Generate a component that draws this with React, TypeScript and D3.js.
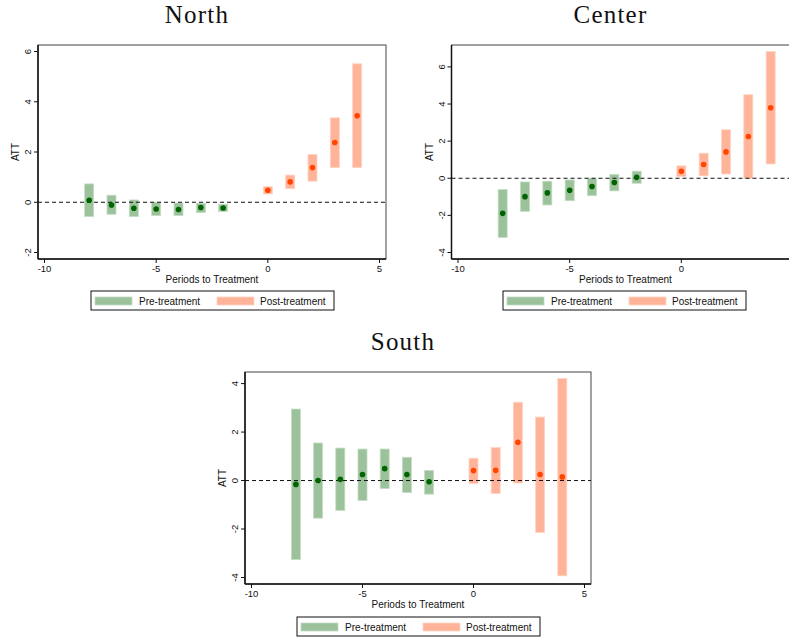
import React from "react";
import * as d3 from "d3";

const periods = [-8, -7, -6, -5, -4, -3, -2, 0, 1, 2, 3, 4];

const northEst = [0.08, -0.11, -0.24, -0.27, -0.29, -0.21, -0.23, 0.48, 0.81, 1.38, 2.38, 3.44];
const northLo = [-0.57, -0.48, -0.57, -0.53, -0.53, -0.41, -0.37, 0.33, 0.54, 0.84, 1.38, 1.38];
const northHi = [0.73, 0.28, 0.09, 0.0, -0.03, -0.04, -0.08, 0.62, 1.08, 1.9, 3.36, 5.51];

const centerEst = [-1.89, -0.99, -0.79, -0.65, -0.45, -0.23, 0.05, 0.38, 0.74, 1.42, 2.25, 3.8];
const centerLo = [-3.19, -1.78, -1.44, -1.21, -0.94, -0.68, -0.27, 0.09, 0.13, 0.23, 0.0, 0.77];
const centerHi = [-0.61, -0.2, -0.16, -0.09, 0.0, 0.2, 0.38, 0.67, 1.35, 2.61, 4.5, 6.83];

const southEst = [-0.16, 0.0, 0.05, 0.25, 0.49, 0.25, -0.05, 0.41, 0.42, 1.58, 0.25, 0.15];
const southLo = [-3.26, -1.55, -1.23, -0.82, -0.33, -0.49, -0.56, -0.12, -0.53, -0.1, -2.14, -3.93];
const southHi = [2.95, 1.55, 1.34, 1.3, 1.3, 0.96, 0.42, 0.92, 1.36, 3.23, 2.62, 4.21];

const xTicks = [-10, -5, 0, 5];
const centerXTicks = [-10, -5, 0];
const northYTicks = [-2, 0, 2, 4, 6];
const centerYTicks = [-4, -2, 0, 2, 4, 6];
const southYTicks = [-4, -2, 0, 2, 4];

const legendLabels = ["Pre-treatment", "Post-treatment"];

const PRE_FILL = "#9cc29b";
const PRE_EDGE = "#c4dcc3";
const POST_FILL = "#ffb398";
const POST_EDGE = "#ffd3c2";
const PRE_DOT = "#006400";
const POST_DOT = "#ff4500";

const SANS = "'Liberation Sans', Arial, sans-serif";
const SERIF = "'Liberation Serif', 'DejaVu Serif', serif";

type PanelProps = {
  title: string;
  left: number;
  top: number;
  width: number;
  height: number;
  yDomain: [number, number];
  yTicks: number[];
  xTickList: number[];
  est: number[];
  lo: number[];
  hi: number[];
  legendX: number;
  legendY: number;
};

function Panel(p: PanelProps) {
  const padX = 6.5;
  const padY = 6.5;
  const R = p.left + p.width;
  const B = p.top + p.height;
  const x = d3.scaleLinear().domain([-10, 5]).range([p.left + padX, R - padX]);
  const y = d3.scaleLinear().domain(p.yDomain).range([B - padY, p.top + padY]);
  const barW = 9;
  const cx = p.left + p.width / 2 - 15;
  return (
    <g>
      <text x={cx} y={p.top - 22} textAnchor="middle" fontFamily={SERIF} fontSize={25} letterSpacing={1.2} fill="#111">
        {p.title}
      </text>
      <rect x={p.left} y={p.top} width={p.width} height={p.height} fill="white" stroke="#444" strokeWidth={1} />
      {periods.map((t, i) => {
        const pre = t < 0;
        const y1 = y(p.hi[i]);
        const y2 = y(p.lo[i]);
        return (
          <rect
            key={"b" + i}
            x={x(t) - barW / 2}
            y={y1}
            width={barW}
            height={Math.max(1, y2 - y1)}
            fill={pre ? PRE_FILL : POST_FILL}
            stroke={pre ? PRE_EDGE : POST_EDGE}
            strokeWidth={0.8}
          />
        );
      })}
      <line x1={p.left} x2={R} y1={y(0)} y2={y(0)} stroke="#111" strokeWidth={1} strokeDasharray="4,3" />
      {periods.map((t, i) => (
        <circle key={"d" + i} cx={x(t)} cy={y(p.est[i])} r={2.8} fill={t < 0 ? PRE_DOT : POST_DOT} />
      ))}
      <line x1={p.left} x2={p.left} y1={p.top} y2={B} stroke="#111" strokeWidth={1.5} />
      <line x1={p.left} x2={R} y1={B} y2={B} stroke="#111" strokeWidth={1.5} />
      {p.yTicks.map((v) => (
        <g key={"yt" + v}>
          <line x1={p.left - 4} x2={p.left} y1={y(v)} y2={y(v)} stroke="#111" strokeWidth={1} />
          <text
            transform={`translate(${p.left - 7},${y(v)}) rotate(-90)`}
            textAnchor="middle"
            fontFamily={SANS}
            fontSize={9.5}
            fill="#111"
          >
            {v}
          </text>
        </g>
      ))}
      {p.xTickList.map((v) => (
        <g key={"xt" + v}>
          <line x1={x(v)} x2={x(v)} y1={B} y2={B + 4} stroke="#111" strokeWidth={1} />
          <text x={x(v)} y={B + 13} textAnchor="middle" fontFamily={SANS} fontSize={9.5} fill="#111">
            {v}
          </text>
        </g>
      ))}
      <text
        transform={`translate(${p.left - 19},${(p.top + B) / 2}) rotate(-90)`}
        textAnchor="middle"
        fontFamily={SANS}
        fontSize={10}
        fill="#111"
      >
        ATT
      </text>
      <text x={(x(-10) + x(5)) / 2} y={B + 24} textAnchor="middle" fontFamily={SANS} fontSize={10} fill="#111">
        Periods to Treatment
      </text>
      <g transform={`translate(${p.legendX},${p.legendY})`}>
        <rect x={0} y={0} width={243} height={19} fill="white" stroke="#111" strokeWidth={1} />
        <rect x={4} y={6} width={37} height={8} fill={PRE_FILL} stroke={PRE_EDGE} strokeWidth={0.8} />
        <text x={48} y={13.5} fontFamily={SANS} fontSize={10} fill="#111">
          {legendLabels[0]}
        </text>
        <rect x={126} y={6} width={37} height={8} fill={POST_FILL} stroke={POST_EDGE} strokeWidth={0.8} />
        <text x={169} y={13.5} fontFamily={SANS} fontSize={10} fill="#111">
          {legendLabels[1]}
        </text>
      </g>
    </g>
  );
}

export default function App() {
  return (
    <svg
      width={789}
      height={639}
      style={{ position: "absolute", left: 0, top: 0, background: "white" }}
    >
      <rect x={0} y={0} width={789} height={639} fill="white" />
      <Panel
        title="North"
        left={38}
        top={45}
        width={348}
        height={214}
        yDomain={[-2, 6]}
        yTicks={northYTicks}
        xTickList={xTicks}
        est={northEst}
        lo={northLo}
        hi={northHi}
        legendX={91}
        legendY={291}
      />
      <Panel
        title="Center"
        left={451.5}
        top={45}
        width={348}
        height={214}
        yDomain={[-4, 6.83]}
        yTicks={centerYTicks}
        xTickList={centerXTicks}
        est={centerEst}
        lo={centerLo}
        hi={centerHi}
        legendX={503}
        legendY={291}
      />
      <Panel
        title="South"
        left={245}
        top={372}
        width={346}
        height={212}
        yDomain={[-4, 4.21]}
        yTicks={southYTicks}
        xTickList={xTicks}
        est={southEst}
        lo={southLo}
        hi={southHi}
        legendX={297}
        legendY={617}
      />
    </svg>
  );
}
